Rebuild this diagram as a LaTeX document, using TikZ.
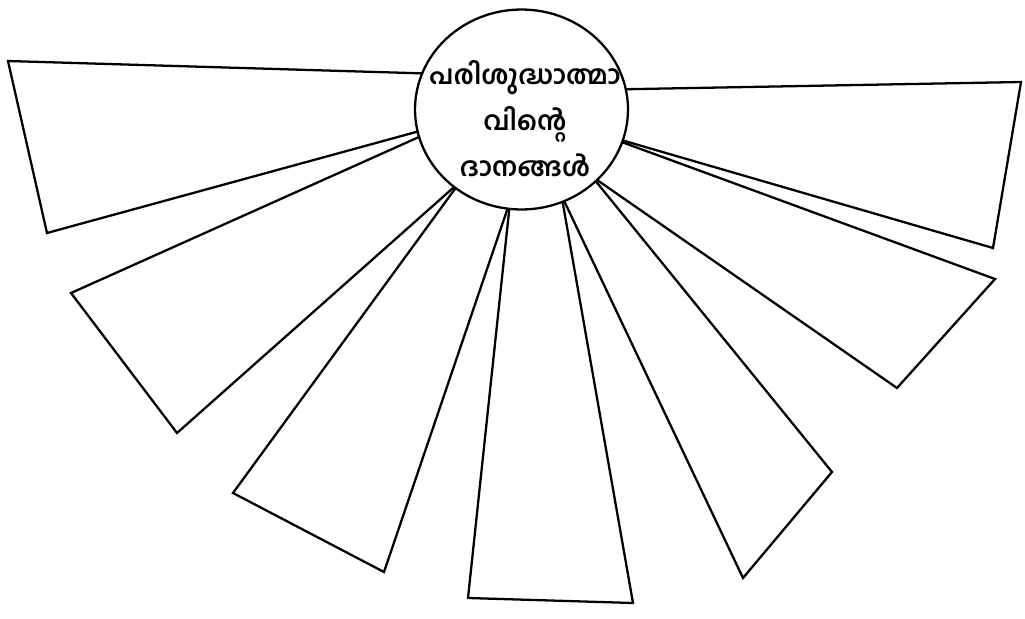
\documentclass[tikz,border=0pt]{standalone}
\usepackage{fontspec}
\newfontfamily\malfont[Script=Malayalam]{Hind Kochi}
\usetikzlibrary{shapes.geometric}

\begin{document}
\begin{tikzpicture}[x=0.02cm,y=-0.02cm,
  ray/.style={line width=1.3pt,line join=miter}]
\useasboundingbox (0,0) rectangle (1025,619);

% centre circle
\node[draw,ellipse,line width=1.3pt,minimum width=4.26cm,minimum height=4cm,
  inner sep=0pt,outer sep=0pt] (hub) at (521.5,109.5) {};

% title
\node[align=center,font=\malfont\bfseries\fontsize{15}{26.2}\selectfont] (title) at (525,119)
  {പരിശുദ്ധാത്മാ\\വിന്റെ\\ദാനങ്ങൾ};

% rays, left to right
\draw[ray] (hub.160.9) -- (8,61) -- (47,233) -- (hub.192.8);
\draw[ray] (hub.195.5) -- (71,293) -- (177,433) -- (hub.229);
\draw[ray] (hub.230) -- (233,493) -- (384,572) -- (hub.262.3);
\draw[ray] (hub.263) -- (468,598) -- (633,603) -- (hub.294.7);
\draw[ray] (hub.295.5) -- (743,578) -- (832,472) -- (hub.316.5);
\draw[ray] (hub.317.5) -- (897,388) -- (995,279) -- (hub.342.5);
\draw[ray] (hub.343) -- (993,248) -- (1021,82) -- (hub.11.4);

\end{tikzpicture}
\end{document}
